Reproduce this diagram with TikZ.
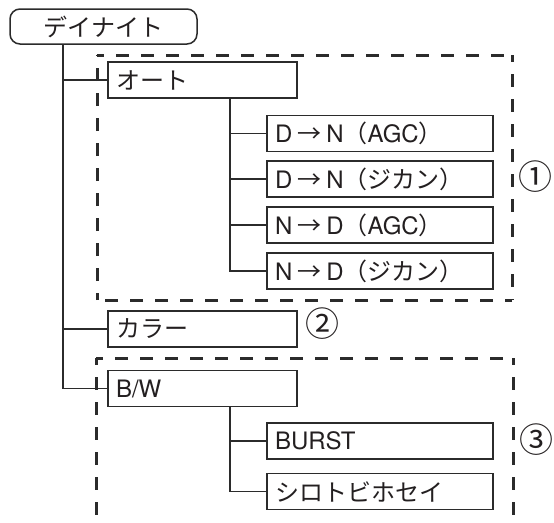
\documentclass[tikz,border=0pt]{standalone}
\usepackage{fontspec}
\setmainfont{TeX Gyre Heros}
\newfontfamily\jp{Noto Sans CJK JP}
\definecolor{linec}{HTML}{2B2B2B}
\definecolor{txt}{HTML}{231F20}
\newcommand{\arr}{\hspace{5pt}{\jp →}\hspace{5pt}}
\begin{document}
\begin{tikzpicture}[x=1pt,y=-1pt,
  box/.style={draw=linec, line width=1.5pt, minimum height=36pt, inner xsep=8pt, inner ysep=0pt,
    align=left, text=txt, font=\fontsize{24}{26}\selectfont},
  wbox/.style={box, text width=173pt},
  sbox/.style={box, text width=210pt},
  topbox/.style={box, rounded corners=10pt, text width=171pt, align=center, minimum height=35pt},
  conn/.style={draw=linec, line width=1.8pt},
  grp/.style={draw=linec, line width=3pt, dash pattern=on 13pt off 12pt, dash phase=6pt},
  num/.style={text=txt, inner sep=0pt, font=\fontsize{34}{36}\selectfont\jp}
]
\useasboundingbox (0,0) rectangle (554,522);
% dashed groups
\draw[grp] (97,55) -- (512,55);
\draw[grp] (512,55) -- (512,300);
\draw[grp] (512,300) -- (97,300);
\draw[grp] (97,300) -- (97,55);
\draw[grp] (96,358) -- (513,358);
\draw[grp] (513,358) -- (513,530);
\draw[grp] (96,358) -- (96,530);
% nodes
\node[topbox] (top) at (103.5,26.5) {\jp デイナイト};
\node[wbox] (auto) at (202.5,80) {\jp オート};
\node[sbox] (dn1) at (380,133.5) {D\arr N{\jp （}AGC{\jp ）}};
\node[sbox] (dn2) at (380,179) {D\arr N{\jp （ジカン）}};
\node[sbox] (nd1) at (380,225) {N\arr D{\jp （}AGC{\jp ）}};
\node[sbox] (nd2) at (380,271) {N\arr D{\jp （ジカン）}};
\node[wbox] (color) at (202.5,329) {\jp カラー};
\node[wbox] (bw) at (202.5,388.5) {B/W};
\node[sbox] (burst) at (380,441) {BURST};
\node[sbox] (shiro) at (380,491.5) {\jp シロトビホセイ};
\node[num] (n1) at (535.5,177) {①};
\node[num] (n2) at (322,324) {②};
\node[num] (n3) at (536,440) {③};
% connectors
\coordinate (m) at ([xshift=54pt]top.south west);
\draw[conn] (m) |- (bw.west);
\draw[conn] (auto.west) -- (auto.west -| m);
\draw[conn] (color.west) -- (color.west -| m);
\coordinate (b1) at ([xshift=122.5pt]auto.south west);
\draw[conn] (b1) |- (nd2.west);
\foreach \k in {dn1,dn2,nd1} \draw[conn] (\k.west) -- (\k.west -| b1);
\coordinate (b2) at ([xshift=122.5pt]bw.south west);
\draw[conn] (b2) |- (shiro.west);
\draw[conn] (burst.west) -- (burst.west -| b2);
\end{tikzpicture}
\end{document}
